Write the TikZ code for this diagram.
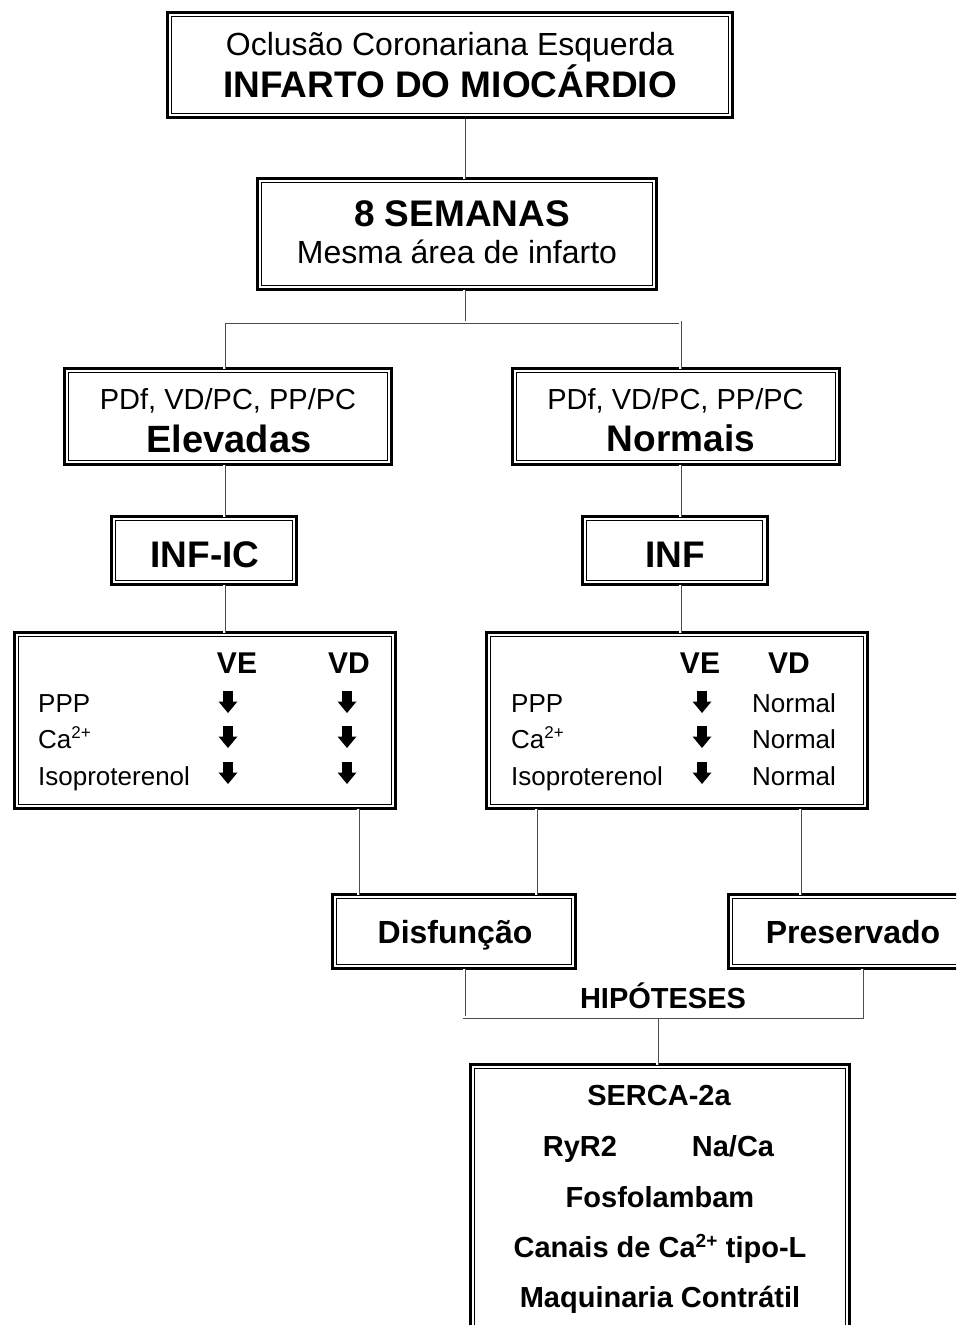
\documentclass[tikz,border=0pt]{standalone}
\usepackage{fontspec}
\setmainfont{Liberation Sans}
\newcommand\fsz[1]{\fontsize{#1}{#1}\selectfont}
\begin{document}
\begin{tikzpicture}[x=1pt,y=-1pt,
  box/.style={draw, line width=3pt, inner sep=0pt,
    path picture={\draw[line width=1.3pt]
      ([xshift=4.2pt,yshift=4.2pt]path picture bounding box.south west) rectangle
      ([xshift=-4.2pt,yshift=-4.2pt]path picture bounding box.north east);}},
  conn/.style={draw=black!70, line width=3pt, postaction={draw=white, line width=1.4pt}},
  tn/.style={inner sep=0pt, anchor=base},
  tw/.style={inner sep=0pt, anchor=base west},
  reg/.style={font=\fsz{#1}},
  bld/.style={font=\fsz{#1}\bfseries},
  darr/.pic={\fill (-5,-11) rectangle (5,0.5); \fill (-9.5,-0.5) -- (9.5,-0.5) -- (0,11) -- cycle;}
]
\useasboundingbox (0,0) rectangle (956,1325);
\clip (0,0) rectangle (956,1325);

% connector coordinates
\coordinate (bus) at (464,322);
\coordinate (bl) at (224,322);
\coordinate (br) at (680,322);
\coordinate (d1) at (358,850);
\coordinate (d2) at (536,850);
\coordinate (d3) at (800,850);
\coordinate (hA) at (464,1017);
\coordinate (hB) at (862,1017);
\coordinate (hm) at (657,1017);

% boxes
\node[box, minimum width=565, minimum height=105] (top) at (450,65) {};
\node[box, minimum width=399, minimum height=111] (sem) at (457,234) {};
\node[box, minimum width=327, minimum height=96] (elev) at (228,416.5) {};
\node[box, minimum width=327, minimum height=96] (norm) at (676,416.5) {};
\node[box, minimum width=185, minimum height=68] (infic) at (204,550.5) {};
\node[box, minimum width=185, minimum height=68] (inf) at (674.5,550.5) {};
\node[box, minimum width=381, minimum height=176] (tl) at (205,720.5) {};
\node[box, minimum width=381, minimum height=176] (tr) at (677,720.5) {};
\node[box, minimum width=243, minimum height=74] (dis) at (454,931.5) {};
\node[box, minimum width=249, minimum height=74] (pres) at (853,931.5) {};
\node[box, minimum width=379, minimum height=279] (hyp) at (660,1204) {};

% connectors
\draw[conn] (top.south -| bus) -- ([yshift=-1.5pt]sem.north -| bus);
\draw[conn] ([yshift=1.5pt]sem.south -| bus) -- (bus);
\draw[conn] ([yshift=-1.5pt]elev.north -| bl) -- (bl) -- (br) -- ([yshift=-1.5pt]norm.north -| br);
\draw[conn] ([yshift=1.5pt]elev.south -| bl) -- ([yshift=-1.5pt]infic.north -| bl);
\draw[conn] ([yshift=1.5pt]norm.south -| br) -- ([yshift=-1.5pt]inf.north -| br);
\draw[conn] ([yshift=1.5pt]infic.south -| bl) -- ([yshift=-1.5pt]tl.north -| bl);
\draw[conn] ([yshift=1.5pt]inf.south -| br) -- ([yshift=-1.5pt]tr.north -| br);
\draw[conn] ([yshift=1.5pt]tl.south -| d1) -- ([yshift=-1.5pt]dis.north -| d1);
\draw[conn] ([yshift=1.5pt]tr.south -| d2) -- ([yshift=-1.5pt]dis.north -| d2);
\draw[conn] ([yshift=1.5pt]tr.south -| d3) -- ([yshift=-1.5pt]pres.north -| d3);
\draw[conn] (hm) -- ([yshift=-1.5pt]hyp.north -| hm);
\draw[conn] ([yshift=1.5pt]dis.south -| hA) -- (hA) -- (hB) -- ([yshift=1.5pt]pres.south -| hB);

% texts
\node[tn, reg=32] (t1) at (450,55) {Oclusão Coronariana Esquerda};
\node[tn, bld=37] (t2) at (450,97) {INFARTO DO MIOCÁRDIO};
\node[tn, bld=37] (t3) at (462,226) {8 SEMANAS};
\node[tn, reg=32] (t4) at (457,263) {Mesma área de infarto};
\node[tn, reg=29] (t5) at (228,409) {PDf, VD/PC, PP/PC};
\node[tn, bld=38] (t6) at (229,452) {Elevadas};
\node[tn, reg=29] (t7) at (675.5,409) {PDf, VD/PC, PP/PC};
\node[tn, bld=37] (t8) at (681,451) {Normais};
\node[tn, bld=37] (t9) at (205,567) {INF-IC};
\node[tn, bld=37] (t10) at (675,567) {INF};

% left table
\node[tn, bld=30] (l1) at (237,673) {VE};
\node[tn, bld=30] (l2) at (349,673) {VD};
\node[tw, reg=26] (l3) at (38,712) {PPP};
\node[tw, reg=26] (l4) at (38,748) {Ca\textsuperscript{\fsz{17}2+}};
\node[tw, reg=26] (l5) at (38,785) {Isoproterenol};
\pic at (228,702) {darr};
\pic at (228,737) {darr};
\pic at (228,773) {darr};
\pic at (347,702) {darr};
\pic at (347,737) {darr};
\pic at (347,773) {darr};

% right table
\node[tn, bld=30] (r1) at (700,673) {VE};
\node[tn, bld=30] (r2) at (789,673) {VD};
\node[tw, reg=26] (r3) at (511,712) {PPP};
\node[tw, reg=26] (r4) at (511,748) {Ca\textsuperscript{\fsz{17}2+}};
\node[tw, reg=26] (r5) at (511,785) {Isoproterenol};
\pic at (702,702) {darr};
\pic at (702,737) {darr};
\pic at (702,773) {darr};
\node[tn, reg=26] (r6) at (794,712) {Normal};
\node[tn, reg=26] (r7) at (794,748) {Normal};
\node[tn, reg=26] (r8) at (794,785) {Normal};

\node[tn, bld=32] (t11) at (455,943) {Disfunção};
\node[tn, bld=32] (t12) at (853,943) {Preservado};
\node[tn, bld=29] (t13) at (663,1008) {HIPÓTESES};

% hypotheses
\node[tn, bld=29] (h1t) at (659,1105) {SERCA-2a};
\node[tn, bld=29] (h2t) at (580,1156) {RyR2};
\node[tn, bld=29] (h3t) at (733,1156) {Na/Ca};
\node[tn, bld=29] (h4t) at (660,1207) {Fosfolambam};
\node[tn, bld=29] (h5t) at (660,1257) {Canais de Ca\textsuperscript{\fsz{19}2+} tipo-L};
\node[tn, bld=29] (h6t) at (660,1307) {Maquinaria Contrátil};
\end{tikzpicture}
\end{document}
